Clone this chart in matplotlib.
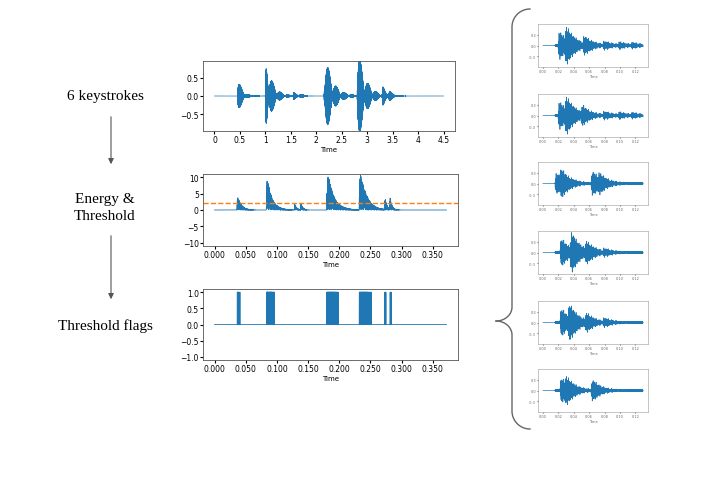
import numpy as np
import matplotlib.pyplot as plt
from matplotlib.patches import FancyArrowPatch

# keystroke recording (time in s)
key_onsets = [0.45, 1.0, 1.55, 1.68, 2.15, 2.8, 3.3, 3.42]
key_amps = [0.6, 1.25, 0.24, 0.24, 1.35, 1.45, 0.33, 0.33]
key_decay = [0.08, 0.12, 0.03, 0.03, 0.15, 0.15, 0.04, 0.04]
t_end = 4.5

# energy (time in s, downsampled)
en_onsets = [0.036, 0.083, 0.128, 0.138, 0.18, 0.232, 0.273, 0.281]
en_peaks = [5.2, 12.5, 2.6, 2.6, 14.0, 15.0, 4.4, 4.4]
en_decay = [0.006, 0.008, 0.003, 0.003, 0.01, 0.01, 0.003, 0.003]
en_end = 0.372
threshold = 2.0

# six segmented keystrokes: burst times (fraction of window) and amplitudes
seg_bursts = [
    ([0.15, 0.22, 0.4, 0.6, 0.75, 0.88], [0.5, 0.45, 0.25, 0.12, 0.1, 0.08]),
    ([0.15, 0.22, 0.38, 0.6, 0.75, 0.88], [0.5, 0.45, 0.25, 0.12, 0.1, 0.08]),
    ([0.12, 0.17, 0.48, 0.55], [0.38, 0.3, 0.42, 0.18]),
    ([0.17, 0.27, 0.42, 0.6], [0.5, 0.55, 0.28, 0.1]),
    ([0.17, 0.25, 0.42, 0.6], [0.5, 0.45, 0.25, 0.12]),
    ([0.17, 0.22, 0.48], [0.45, 0.25, 0.35]),
]
seg_ticks = ["0.00", "0.02", "0.04", "0.06", "0.08", "0.10", "0.12"]

BLUE = "#1f77b4"


def bursts(t, onsets, amps, decays, freq):
    env = np.zeros_like(t)
    for t0, a, d in zip(onsets, amps, decays):
        m = t >= t0
        dt = t[m] - t0
        env[m] += a * (1 - np.exp(-dt / (0.08 * d))) * np.exp(-dt / d)
    carrier = 0.6 * np.sin(2 * np.pi * freq * t) + 0.4 * np.sin(2 * np.pi * freq * 1.618 * t + 1.3)
    return env * carrier


fig = plt.figure(figsize=(7.14, 4.81), dpi=100)
W, H = 714, 481


def ax_px(x0, y0, x1, y1):
    return fig.add_axes([x0 / W, 1 - y1 / H, (x1 - x0) / W, (y1 - y0) / H])


# panel 1
ax1 = ax_px(203, 62, 455, 132)
t = np.linspace(0, t_end, 20000)
ax1.plot(t, bursts(t, key_onsets, key_amps, key_decay, 1700), color=BLUE, lw=0.5)
ax1.set_xticks([0, 0.5, 1, 1.5, 2, 2.5, 3, 3.5, 4, 4.5])
ax1.set_xticklabels(["0", "0.5", "1", "1.5", "2", "2.5", "3", "3.5", "4", "4.5"])
ax1.set_yticks([-0.5, 0, 0.5])
ax1.set_ylim(-0.95, 0.95)
ax1.set_xlabel("Time", fontsize=5, labelpad=1)

# panel 2
ax2 = ax_px(203, 175, 458, 247)
te = np.linspace(0, en_end, 6000)
energy = np.abs(bursts(te, en_onsets, en_peaks, en_decay, 1900))
ax2.plot(te, energy, color=BLUE, lw=0.6)
ax2.axhline(threshold, color="#ff7f0e", ls="--", lw=1)
ax2.set_ylim(-11, 11)
ax2.set_yticks([-10, -5, 0, 5, 10])
ax2.set_xticks(np.arange(0, 0.36, 0.05))
ax2.set_xticklabels(["%.3f" % v for v in np.arange(0, 0.36, 0.05)])
ax2.set_xlabel("Time", fontsize=5, labelpad=1)

# panel 3
ax3 = ax_px(203, 290, 458, 361)
flags = (energy > threshold).astype(float)
ax3.plot(te, flags, color=BLUE, lw=0.6)
ax3.set_ylim(-1.1, 1.1)
ax3.set_yticks([-1, -0.5, 0, 0.5, 1])
ax3.set_xticks(np.arange(0, 0.36, 0.05))
ax3.set_xticklabels(["%.3f" % v for v in np.arange(0, 0.36, 0.05)])
ax3.set_xlabel("Time", fontsize=5, labelpad=1)

for a in (ax1, ax2, ax3):
    a.tick_params(labelsize=5.5, length=2, pad=1)
    for s in a.spines.values():
        s.set_linewidth(0.6)
        s.set_color("#555555")

# small segmented panels
tops = [25, 95, 163, 232, 302, 370]
ts = np.linspace(0, 1, 4000)
for top, (ons, amps) in zip(tops, seg_bursts):
    ax = ax_px(538, top, 648, top + 43)
    dec = [0.09] * len(ons)
    y = bursts(ts, ons, amps, dec, 170)
    y += 0.02 * np.sin(2 * np.pi * 300 * ts) * (ts > 0.12)
    ax.plot(ts * 0.13, y, color=BLUE, lw=0.5)
    ax.set_ylim(-0.6, 0.6)
    ax.set_yticks([-0.3, 0, 0.3])
    ax.set_yticklabels(["-0.3", "0.0", "0.3"])
    ax.set_xticks(np.linspace(0, 0.12, 7))
    ax.set_xticklabels(seg_ticks)
    ax.tick_params(labelsize=2.5, length=1, pad=0.5, colors="#666666")
    ax.set_xlabel("Time", fontsize=2.5, labelpad=0.5, color="#666666")
    for s in ax.spines.values():
        s.set_linewidth(0.4)
        s.set_color("#999999")

# labels and arrows
serif = "Liberation Serif"
fig.text(105 / W, 1 - 97 / H, "6 keystrokes", ha="center", va="center", fontsize=11, family=serif)
fig.text(105 / W, 1 - 208 / H, "Energy &\nThreshold", ha="center", va="center", fontsize=11, family=serif, linespacing=1.3)
fig.text(105 / W, 1 - 326 / H, "Threshold flags", ha="center", va="center", fontsize=11, family=serif)
for y0, y1 in [(115, 168), (234, 303)]:
    fig.patches.append(FancyArrowPatch((111 / W, 1 - y0 / H), (111 / W, 1 - y1 / H), transform=fig.transFigure,
                                       arrowstyle="-|>", mutation_scale=8, color="#555555", lw=0.8))

# curly brace
bx = fig.add_axes([0, 0, 1, 1], zorder=-1)
bx.set_xlim(0, W)
bx.set_ylim(H, 0)
bx.axis("off")
top_y, bot_y, tip = 10, 430, 322
r = 18
th = np.linspace(0, np.pi / 2, 30)
for ye in (top_y, bot_y):
    s = np.sign(tip - ye)
    x_a = 530 - r * np.sin(th)
    y_a = ye + s * r * (1 - np.cos(th))
    x_b = [512, 512]
    y_b = [ye + s * r, tip - s * 14]
    x_c = 512 - 16 * (1 - np.cos(th))
    y_c = tip - s * 14 + s * 14 * np.sin(th)
    bx.plot(np.r_[x_a, x_b, x_c], np.r_[y_a, y_b, y_c], color="#666666", lw=1)

fig.savefig("out.png", dpi=100)
